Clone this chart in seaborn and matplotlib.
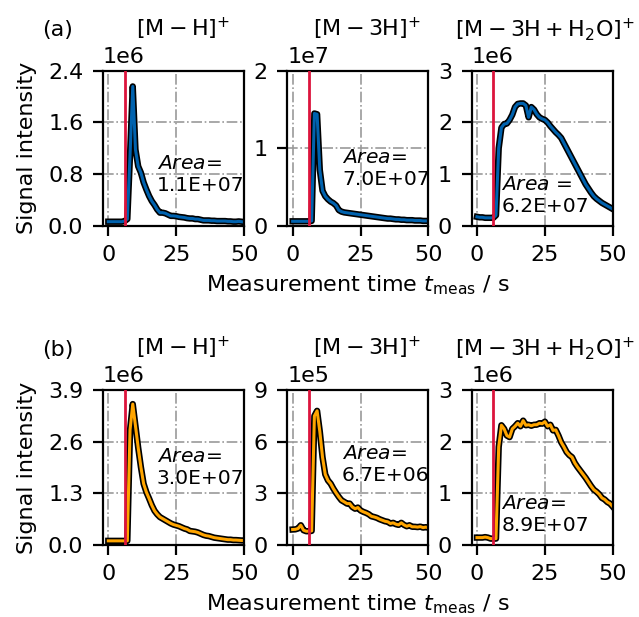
import numpy as np
import matplotlib
matplotlib.use("Agg")
import matplotlib.pyplot as plt
import matplotlib.patheffects as pe
import seaborn as sns

# measurement time (s), one sample per second
t_meas = [0, 1, 2, 3, 4, 5, 6, 7, 8, 9, 10, 11, 12, 13, 14, 15, 16, 17, 18, 19, 20,
          21, 22, 23, 24, 25, 26, 27, 28, 29, 30, 31, 32, 33, 34, 35, 36, 37, 38, 39, 40,
          41, 42, 43, 44, 45, 46, 47, 48, 49, 50]

# ── (a) row, values in units of the axis multiplier ─────────────
a_mh = [0.06, 0.06, 0.06, 0.06, 0.06, 0.06, 0.07,
        0.10, 1.10, 2.16,
        1.18, 0.92, 0.82, 0.67, 0.56, 0.46, 0.38, 0.32, 0.25, 0.20,
        0.20, 0.19, 0.17, 0.15, 0.15, 0.145, 0.135, 0.13, 0.125, 0.115,
        0.11, 0.11, 0.10, 0.10, 0.09, 0.08, 0.08, 0.08, 0.075, 0.075,
        0.07, 0.07, 0.07, 0.07, 0.065, 0.065, 0.06, 0.06, 0.065, 0.06, 0.055]
a_m3h = [0.055, 0.055, 0.055, 0.055, 0.055, 0.055, 0.055,
         0.06, 1.45, 1.44,
         0.72, 0.45, 0.38, 0.34, 0.31, 0.29, 0.26, 0.20, 0.18, 0.17,
         0.165, 0.16, 0.155, 0.15, 0.145, 0.14, 0.135, 0.13, 0.125, 0.12,
         0.115, 0.11, 0.105, 0.10, 0.095, 0.09, 0.09, 0.085, 0.08, 0.08,
         0.075, 0.075, 0.07, 0.07, 0.07, 0.065, 0.065, 0.065, 0.06, 0.06, 0.06]
a_m3h_h2o = [0.17, 0.16, 0.16, 0.15, 0.15, 0.15, 0.15,
             0.20, 1.50, 1.90,
             1.97, 1.98, 2.05, 2.15, 2.30, 2.36, 2.37, 2.37, 2.33, 2.10,
             2.30, 2.25, 2.16, 2.10, 2.07, 2.05, 2.00, 1.93, 1.87, 1.81,
             1.76, 1.70, 1.60, 1.50, 1.40, 1.30, 1.20, 1.10, 1.00, 0.90,
             0.80, 0.72, 0.64, 0.57, 0.52, 0.48, 0.44, 0.41, 0.38, 0.35, 0.32]

# ── (b) row ──────────────────────────────────────────────────────
b_mh = [0.10, 0.10, 0.10, 0.10, 0.10, 0.10, 0.10,
        0.10, 2.90, 3.55,
        3.00, 2.45, 1.96, 1.54, 1.33, 1.17, 1.00, 0.86, 0.77, 0.70,
        0.66, 0.62, 0.58, 0.54, 0.51, 0.49, 0.47, 0.44, 0.41, 0.39,
        0.35, 0.34, 0.33, 0.31, 0.28, 0.25, 0.23, 0.22, 0.20, 0.18,
        0.17, 0.16, 0.15, 0.14, 0.13, 0.13, 0.12, 0.12, 0.115, 0.11, 0.11]
b_m3h = [0.89, 0.90, 0.95, 1.14, 0.85, 0.79, 0.79,
         0.81, 7.50, 7.80,
         6.60, 5.10, 4.10, 3.75, 3.56, 3.27, 3.02, 2.79, 2.59, 2.50,
         2.40, 2.40, 2.20, 2.10, 2.17, 2.00, 1.92, 1.86, 1.78, 1.66,
         1.62, 1.57, 1.49, 1.43, 1.37, 1.34, 1.24, 1.28, 1.20, 1.16,
         1.28, 1.16, 1.08, 1.14, 1.05, 1.05, 1.03, 1.06, 1.00, 1.03, 0.99]
b_m3h_h2o = [0.14, 0.14, 0.14, 0.15, 0.14, 0.12, 0.12,
             0.12, 1.90, 2.32,
             2.25, 2.12, 2.09, 2.25, 2.30, 2.36, 2.30, 2.41, 2.32, 2.33,
             2.31, 2.33, 2.33, 2.36, 2.35, 2.39, 2.30, 2.33, 2.22, 2.23,
             2.12, 1.99, 1.90, 1.80, 1.74, 1.70, 1.59, 1.51, 1.44, 1.37,
             1.30, 1.22, 1.14, 1.07, 1.03, 0.98, 0.91, 0.88, 0.83, 0.80, 0.74]

signals = [[a_mh, a_m3h, a_m3h_h2o], [b_mh, b_m3h, b_m3h_h2o]]
multipliers = [[1e6, 1e7, 1e6], [1e6, 1e5, 1e6]]
yticks = [[[0, 0.8, 1.6, 2.4], [0, 1, 2], [0, 1, 2, 3]],
          [[0, 1.3, 2.6, 3.9], [0, 3, 6, 9], [0, 1, 2, 3]]]
areas = [["1.1E+07", "7.0E+07", "6.2E+07"], ["3.0E+07", "6.7E+06", "8.9E+07"]]
area_eq = [["=", "=", " ="], ["=", "=", "="]]
area_pos = [[(0.383, 0.33), (0.388, 0.37), (0.21, 0.197)],
            [(0.383, 0.50), (0.388, 0.52), (0.21, 0.197)]]

titles = [r"$[\mathrm{M-H}]^{+}$", r"$[\mathrm{M-3H}]^{+}$",
          r"$[\mathrm{M-3H+H_2O}]^{+}$"]
title_x = [0.571, 0.564, 0.521]
panel_tags = ["(a)", "(b)"]
line_colors = ["#0062ae", "#ffa500"]
t_start = 6

plt.rcParams["font.size"] = 8
plt.rcParams["axes.titlesize"] = 8

fig, axes = plt.subplots(2, 3, figsize=(3.195, 3.085), dpi=200)
fig.subplots_adjust(left=0.161, right=0.959, bottom=0.117, top=0.885,
                    wspace=0.305, hspace=1.065)

for r in range(2):
    for c in range(3):
        ax = axes[r][c]
        m = multipliers[r][c]
        y = np.array(signals[r][c]) * m
        sns.lineplot(x=t_meas, y=y, ax=ax, color=line_colors[r], lw=1.1,
                     path_effects=[pe.Stroke(linewidth=2.3, foreground="black"),
                                   pe.Normal()])
        ax.axvline(t_start, color="crimson", lw=1.0, zorder=3)

        ax.set_xlim(-2, 50)
        ax.set_xticks([0, 25, 50])
        ticks = [v * m for v in yticks[r][c]]
        ax.set_yticks(ticks)
        ax.set_ylim(0, ticks[-1])
        ax.ticklabel_format(axis="y", style="sci", scilimits=(0, 0))
        ax.grid(True, ls="-.", color="0.6", lw=0.6)

        # title sits above the 1eN offset text
        ax.set_title(titles[c], x=title_x[c], y=1.226, pad=0)
        px, py = area_pos[r][c]
        ax.text(px, py, r"$\it{Area}$" + area_eq[r][c] + "\n" + areas[r][c],
                transform=ax.transAxes, ha="left", va="center", fontsize=7.3)

    axes[r][0].set_ylabel("Signal intensity")
    axes[r][1].set_xlabel(r"Measurement time $t_\mathrm{meas}$ / s", labelpad=3)

fig.text(42 / 639, 1 - 36 / 617, panel_tags[0], va="baseline", ha="left")
fig.text(42 / 639, 1 - 356 / 617, panel_tags[1], va="baseline", ha="left")

plt.savefig("out.png", dpi=200)
